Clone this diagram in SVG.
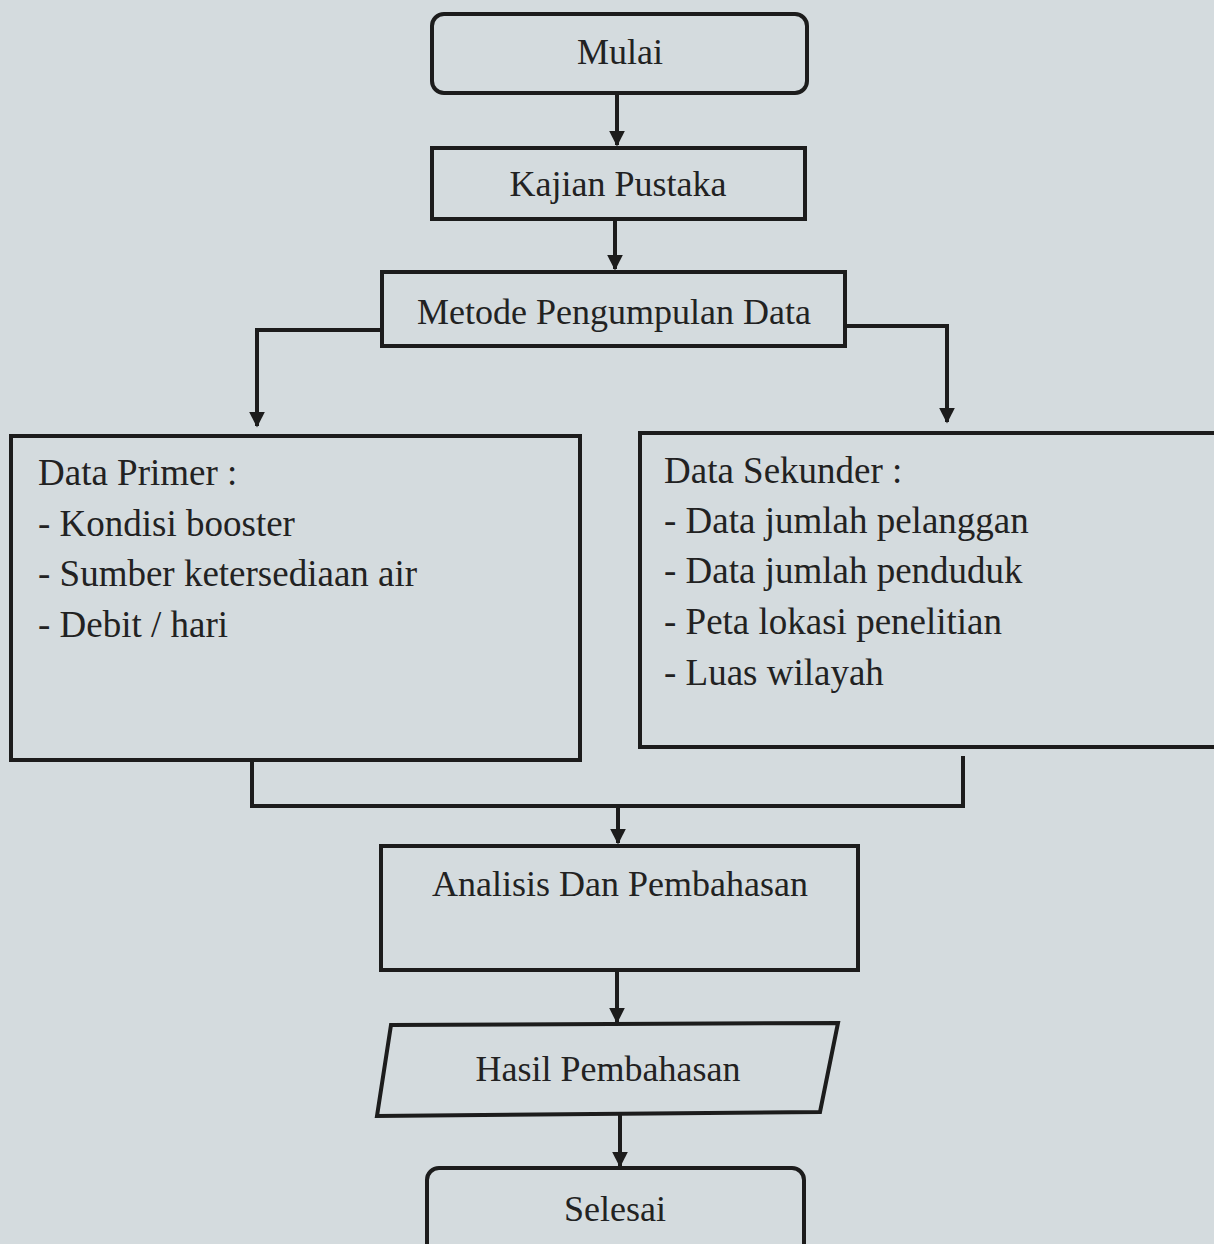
<svg xmlns="http://www.w3.org/2000/svg" width="1214" height="1244" viewBox="0 0 1214 1244">
<defs>
<style>
.bx{fill:none;stroke:#1c1c1c;stroke-width:4}
.cn{fill:none;stroke:#1c1c1c;stroke-width:4}
.t{font-family:"Liberation Serif","Times New Roman",serif;font-size:36px;fill:#222}
.c{text-anchor:middle}
.l{font-size:37px}
</style>
<marker id="ah" viewBox="0 0 10 10" refX="9" refY="5" markerWidth="4" markerHeight="4.5" orient="auto" markerUnits="strokeWidth">
<path d="M0,0 L10,5 L0,10 z" fill="#1c1c1c"/>
</marker>
</defs>
<rect width="1214" height="1244" fill="#d4dbde"/>
<g id="connectors">
<line class="cn" x1="617" y1="93" x2="617" y2="145" marker-end="url(#ah)"/>
<line class="cn" x1="615" y1="219" x2="615" y2="269" marker-end="url(#ah)"/>
<polyline class="cn" points="382,330 257,330 257,426" marker-end="url(#ah)"/>
<polyline class="cn" points="845,326 947,326 947,422" marker-end="url(#ah)"/>
<polyline class="cn" points="252,762 252,806 963,806 963,756"/>
<line class="cn" x1="618" y1="806" x2="618" y2="843" marker-end="url(#ah)"/>
<line class="cn" x1="617" y1="970" x2="617" y2="1022" marker-end="url(#ah)"/>
<line class="cn" x1="620" y1="1115" x2="620" y2="1166" marker-end="url(#ah)"/>
</g>
<g id="mulai">
<rect class="bx" x="432" y="14" width="375" height="79" rx="12"/>
<text class="t c" x="620" y="64">Mulai</text>
</g>
<g id="kajian">
<rect class="bx" x="432" y="148" width="373" height="71"/>
<text class="t c" x="618" y="196">Kajian Pustaka</text>
</g>
<g id="metode">
<rect class="bx" x="382" y="272" width="463" height="74"/>
<text class="t c" x="614" y="324">Metode Pengumpulan Data</text>
</g>
<g id="primer">
<rect class="bx" x="11" y="436" width="569" height="324"/>
<text class="t l" x="38" y="485">Data Primer :</text>
<text class="t l" x="38" y="536">- Kondisi booster</text>
<text class="t l" x="38" y="586">- Sumber ketersediaan air</text>
<text class="t l" x="38" y="637">- Debit / hari</text>
</g>
<g id="sekunder">
<rect class="bx" x="640" y="433" width="590" height="314"/>
<text class="t l" x="664" y="483">Data Sekunder :</text>
<text class="t l" x="664" y="533">- Data jumlah pelanggan</text>
<text class="t l" x="664" y="583">- Data jumlah penduduk</text>
<text class="t l" x="664" y="634">- Peta lokasi penelitian</text>
<text class="t l" x="664" y="685">- Luas wilayah</text>
</g>
<g id="analisis">
<rect class="bx" x="381" y="846" width="477" height="124"/>
<text class="t c" x="620" y="896">Analisis Dan Pembahasan</text>
</g>
<g id="hasil">
<polygon class="bx" points="391,1025 838,1023 820,1112 377,1116"/>
<text class="t c" x="608" y="1081">Hasil Pembahasan</text>
</g>
<g id="selesai">
<rect class="bx" x="427" y="1168" width="377" height="100" rx="12"/>
<text class="t c" x="615" y="1221">Selesai</text>
</g>
</svg>
